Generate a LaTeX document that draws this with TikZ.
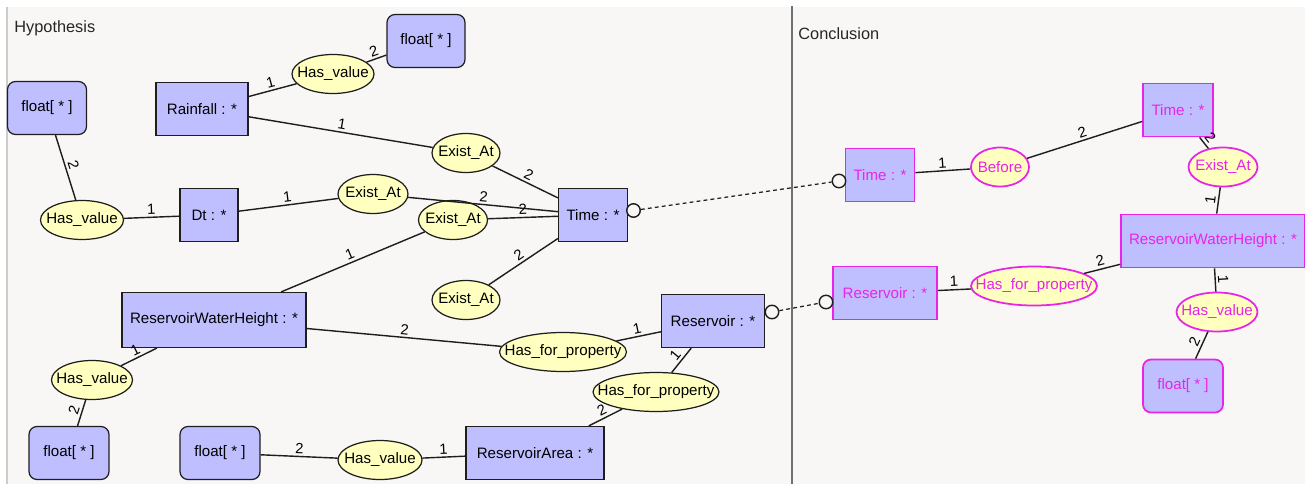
\documentclass[tikz,border=0pt]{standalone}
\usepackage{fontspec}
\setmainfont{Liberation Sans}
\usetikzlibrary{shapes.geometric,positioning}

\definecolor{conceptfill}{RGB}{191,191,255}
\definecolor{relfill}{RGB}{255,255,192}
\definecolor{linecol}{RGB}{30,30,30}
\definecolor{concmag}{RGB}{232,36,232}
\definecolor{panelbg}{RGB}{249,247,245}
\definecolor{divider}{RGB}{112,112,112}

\tikzset{
  concept/.style={rectangle,draw=linecol,line width=0.7pt,fill=conceptfill,
    minimum width=#1,minimum height=1.06cm,inner sep=0pt,
    font=\fontsize{8.6}{10}\selectfont},
  valbox/.style={concept=#1,rounded corners=0.16cm},
  relation/.style={ellipse,draw=linecol,line width=0.7pt,fill=relfill,
    minimum width=#1,minimum height=0.78cm,inner xsep=-1cm,inner ysep=0pt,
    font=\fontsize{8.6}{10}\selectfont},
  concl/.style={draw=concmag,line width=1pt,text=concmag},
  port/.style={circle,draw=linecol,line width=0.8pt,fill=panelbg,
    minimum size=0.27cm,inner sep=0pt},
  link/.style={draw=linecol,line width=0.8pt},
  num/.style={font=\fontsize{8.4}{10}\selectfont,sloped,above,inner sep=1.3pt},
  title/.style={anchor=west,inner sep=2pt,text=black!85,
    font=\fontsize{9.3}{11}\selectfont}
}

\begin{document}
\begin{tikzpicture}[x=0.02cm,y=-0.02cm]
   \useasboundingbox (0,0) rectangle (1305,484);
   % panels
   \fill[white] (0,0) rectangle (1305,484);
   \fill[panelbg] (7,7) rectangle (1305,484);
   \draw[black!20,line width=0.6pt] (7,7) -- (7,484);
   \draw[divider,line width=1.6pt] (792,6) -- (792,484);
   \node[title] (hyp) at (10.5,28) {Hypothesis};
   \node[title] (conc) at (794.5,34) {Conclusion};

   % hypothesis graph
   \node[valbox=1.56cm] (ftop) at (426,41) {float[ * ]};
   \node[concept=1.84cm] (rain) at (202,109) {Rainfall : *};
   \node[valbox=1.58cm] (fleft) at (47,108) {float[ * ]};
   \node[concept=1.38cm] (time) at (593,215) {Time : *};
   \node[concept=1.16cm] (dt) at (209,215) {Dt : *};
   \node[concept=3.68cm,minimum height=1.1cm] (rwh) at (214,320) {ReservoirWaterHeight : *};
   \node[valbox=1.6cm] (fbl) at (69,453) {float[ * ]};
   \node[valbox=1.6cm] (fbm) at (220,453) {float[ * ]};
   \node[concept=2.76cm] (area) at (535,453) {ReservoirArea : *};
   \node[concept=2.06cm] (res) at (713,321) {Reservoir : *};

   \node[relation=1.64cm] (hv1) at (333,74) {Has\_value};
   \node[relation=1.36cm] (ex1) at (466,153) {Exist\_At};
   \node[relation=1.66cm] (hv2) at (82,220) {Has\_value};
   \node[relation=1.4cm] (ex2) at (373,194) {Exist\_At};
   \node[relation=1.38cm] (ex3) at (453,220) {Exist\_At};
   \node[relation=1.36cm] (ex4) at (466,300) {Exist\_At};
   \node[relation=1.62cm] (hv3) at (92,380) {Has\_value};
   \node[relation=1.68cm] (hv4) at (380,460) {Has\_value};
   \node[relation=2.54cm] (hfp1) at (563,352) {Has\_for\_property};
   \node[relation=2.52cm] (hfp2) at (656,392) {Has\_for\_property};

   \node[port] (tport) at (633.5,210.5) {};
   \node[port] (rport) at (772,312) {};

   % conclusion graph
   \node[concept=1.38cm,concl] (ctime) at (880,175) {Time : *};
   \node[concept=1.4cm,concl] (ctime2) at (1178,110) {Time : *};
   \node[concept=3.68cm,concl] (crwh) at (1213,241) {ReservoirWaterHeight : *};
   \node[concept=2.08cm,concl] (cres) at (885,293) {Reservoir : *};
   \node[valbox=1.6cm,concl] (cfl) at (1183,386) {float[ * ]};

   \node[relation=1.16cm,concl] (before) at (1000,167) {Before};
   \node[relation=1.38cm,concl] (cex) at (1223,167) {Exist\_At};
   \node[relation=2.52cm,concl] (chfp) at (1034,286) {Has\_for\_property};
   \node[relation=1.62cm,concl] (chv) at (1217,312) {Has\_value};

   \node[port] (cport1) at (839,181) {};
   \node[port] (cport2) at (826,302) {};

   \path[link,nodes={num}]
(rain) edge node {1} (hv1)
(hv1) edge node {2} (ftop)
(rain) edge node {1} (ex1)
(ex1) edge node {2} (time)
(fleft) edge node {2} (hv2)
(hv2) edge node {1} (dt)
(dt) edge node {1} (ex2)
(ex2) edge node {2} (time)
(ex3) edge node {2} (time)
(rwh) edge node {1} (ex3)
(ex4) edge node {2} (time)
(rwh) edge node {2} (hfp1)
(hfp1) edge node {1} (res)
(hfp2) edge node {1} (res)
(area) edge node {2} (hfp2)
(rwh) edge node {1} (hv3)
(hv3) edge node {2} (fbl)
(fbm) edge node {2} (hv4)
(hv4) edge node {1} (area)
(ctime) edge node {1} (before)
(before) edge node {2} (ctime2)
(ctime2) edge node {2} (cex)
(cex) edge node {1} (crwh)
(cres) edge node {1} (chfp)
(chfp) edge node {2} (crwh)
(crwh) edge node {1} (chv)
(chv) edge node {2} (cfl);

   \draw[linecol,line width=0.7pt,dash pattern=on 2.2pt off 1.8pt] (tport) -- (cport1);
   \draw[linecol,line width=0.7pt,dash pattern=on 2.2pt off 1.8pt] (rport) -- (cport2);
\end{tikzpicture}
\end{document}
